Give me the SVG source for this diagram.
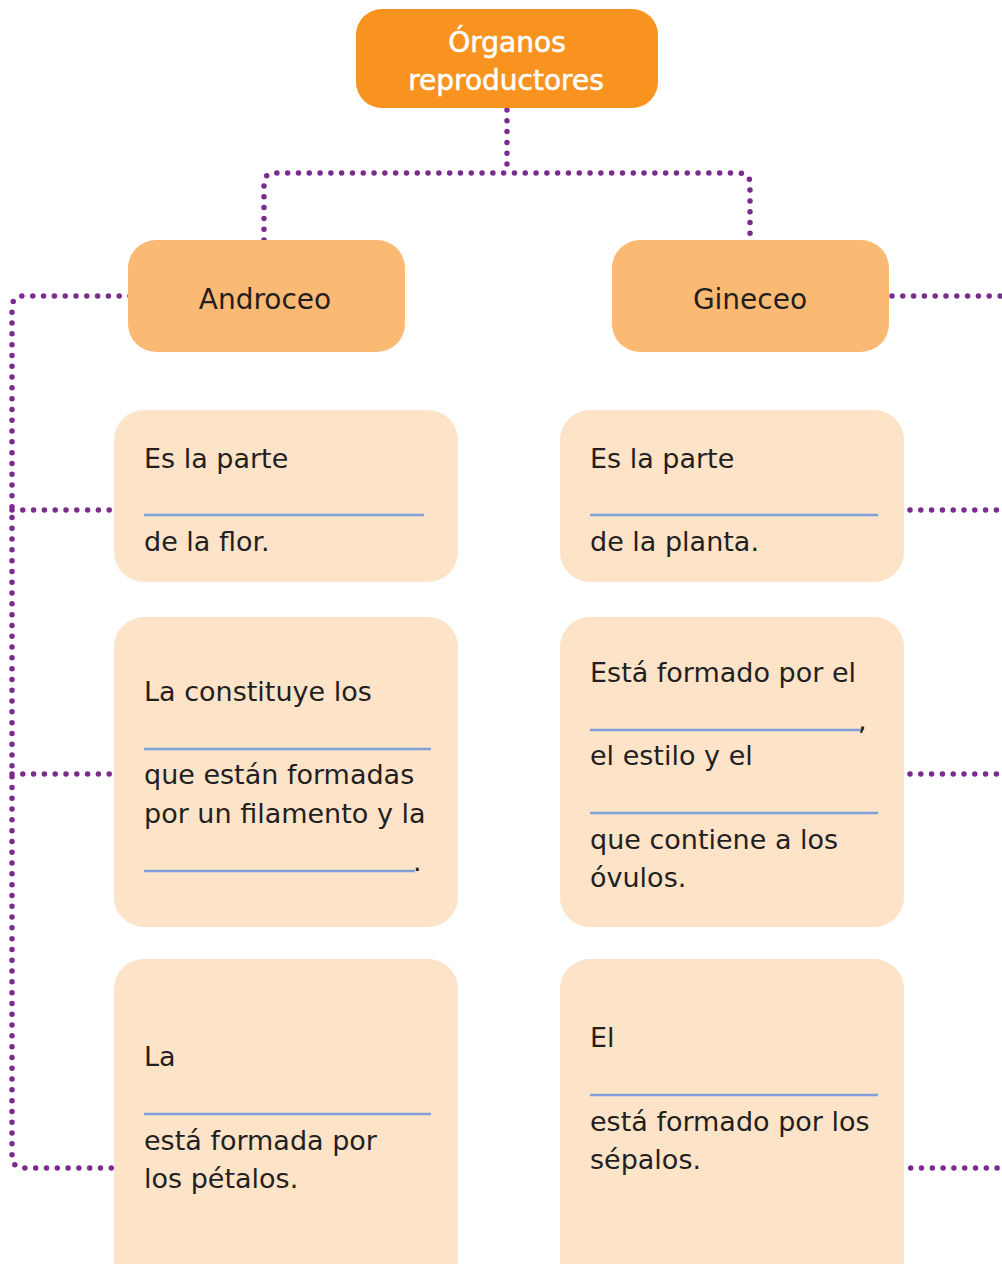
<svg xmlns="http://www.w3.org/2000/svg" width="1002" height="1264" viewBox="0 0 1002 1264">
<style>
.title{fill:#F7931E}
.head{fill:#FBBA74}
.card{fill:#FDE3C8}
.tw{font-family:"DejaVu Sans","Liberation Sans",sans-serif;font-size:28px;fill:#FFFFFF;stroke:#FFFFFF;stroke-width:0.6;text-anchor:middle}
.th{font-family:"DejaVu Sans","Liberation Sans",sans-serif;font-size:28px;fill:#231F20;text-anchor:middle}
.tb{font-family:"DejaVu Sans","Liberation Sans",sans-serif;font-size:27px;fill:#231F20}
.blank{stroke:#7F9FD8;stroke-width:2.6;fill:none}
.dot{fill:none;stroke:#7B2A8E;stroke-width:5.5;stroke-linecap:round;stroke-dasharray:0 10.8}
</style>
<g id="connectors">
<path class="dot" d="M507,110 V173"/>
<path class="dot" d="M264,240 V184 Q264,173 275,173 H739 Q750,173 750,184 V240"/>
<path class="dot" d="M130,296 H24 Q12,296 12,308 V1156 Q12,1168 24,1168 H115"/>
<path class="dot" d="M12,510 H112"/>
<path class="dot" d="M12,774 H112"/>
<path class="dot" d="M892,296 H998 Q1010,296 1010,308 V1156 Q1010,1168 998,1168 H907"/>
<path class="dot" d="M910,510 H1010"/>
<path class="dot" d="M910,774 H1010"/>
</g>
<g id="node-organos">
<rect class="title" x="356" y="9" width="302" height="99" rx="26"/>
<text class="tw" x="507" y="52">Órganos</text>
<text class="tw" x="506" y="90">reproductores</text>
</g>
<g id="node-androceo">
<rect class="head" x="128" y="240" width="277" height="112" rx="28"/>
<text class="th" x="265" y="309">Androceo</text>
</g>
<g id="node-gineceo">
<rect class="head" x="612" y="240" width="277" height="112" rx="28"/>
<text class="th" x="750" y="309">Gineceo</text>
</g>
<g id="node-a1">
<rect class="card" x="114" y="410" width="344" height="172" rx="30"/>
<text class="tb" x="144" y="468">Es la parte</text>
<line class="blank" x1="144" y1="515" x2="424" y2="515"/>
<text class="tb" x="144" y="551">de la flor.</text>
</g>
<g id="node-g1">
<rect class="card" x="560" y="410" width="344" height="172" rx="30"/>
<text class="tb" x="590" y="468">Es la parte</text>
<line class="blank" x1="590" y1="515" x2="878" y2="515"/>
<text class="tb" x="590" y="551">de la planta.</text>
</g>
<g id="node-a2">
<rect class="card" x="114" y="617" width="344" height="310" rx="30"/>
<text class="tb" x="144" y="701">La constituye los</text>
<line class="blank" x1="144" y1="749" x2="431" y2="749"/>
<text class="tb" x="144" y="784">que están formadas</text>
<text class="tb" x="144" y="823">por un filamento y la</text>
<line class="blank" x1="144" y1="871" x2="415" y2="871"/>
<text class="tb" x="413" y="871">.</text>
</g>
<g id="node-g2">
<rect class="card" x="560" y="617" width="344" height="310" rx="30"/>
<text class="tb" x="590" y="682">Está formado por el</text>
<line class="blank" x1="590" y1="730" x2="862" y2="730"/>
<text class="tb" x="858" y="730">,</text>
<text class="tb" x="590" y="765">el estilo y el</text>
<line class="blank" x1="590" y1="813" x2="878" y2="813"/>
<text class="tb" x="590" y="849">que contiene a los</text>
<text class="tb" x="590" y="887">óvulos.</text>
</g>
<g id="node-a3">
<rect class="card" x="114" y="959" width="344" height="340" rx="30"/>
<text class="tb" x="144" y="1066">La</text>
<line class="blank" x1="144" y1="1114" x2="431" y2="1114"/>
<text class="tb" x="144" y="1150">está formada por</text>
<text class="tb" x="144" y="1188">los pétalos.</text>
</g>
<g id="node-g3">
<rect class="card" x="560" y="959" width="344" height="340" rx="30"/>
<text class="tb" x="590" y="1047">El</text>
<line class="blank" x1="590" y1="1095" x2="878" y2="1095"/>
<text class="tb" x="590" y="1131">está formado por los</text>
<text class="tb" x="590" y="1169">sépalos.</text>
</g>
</svg>
